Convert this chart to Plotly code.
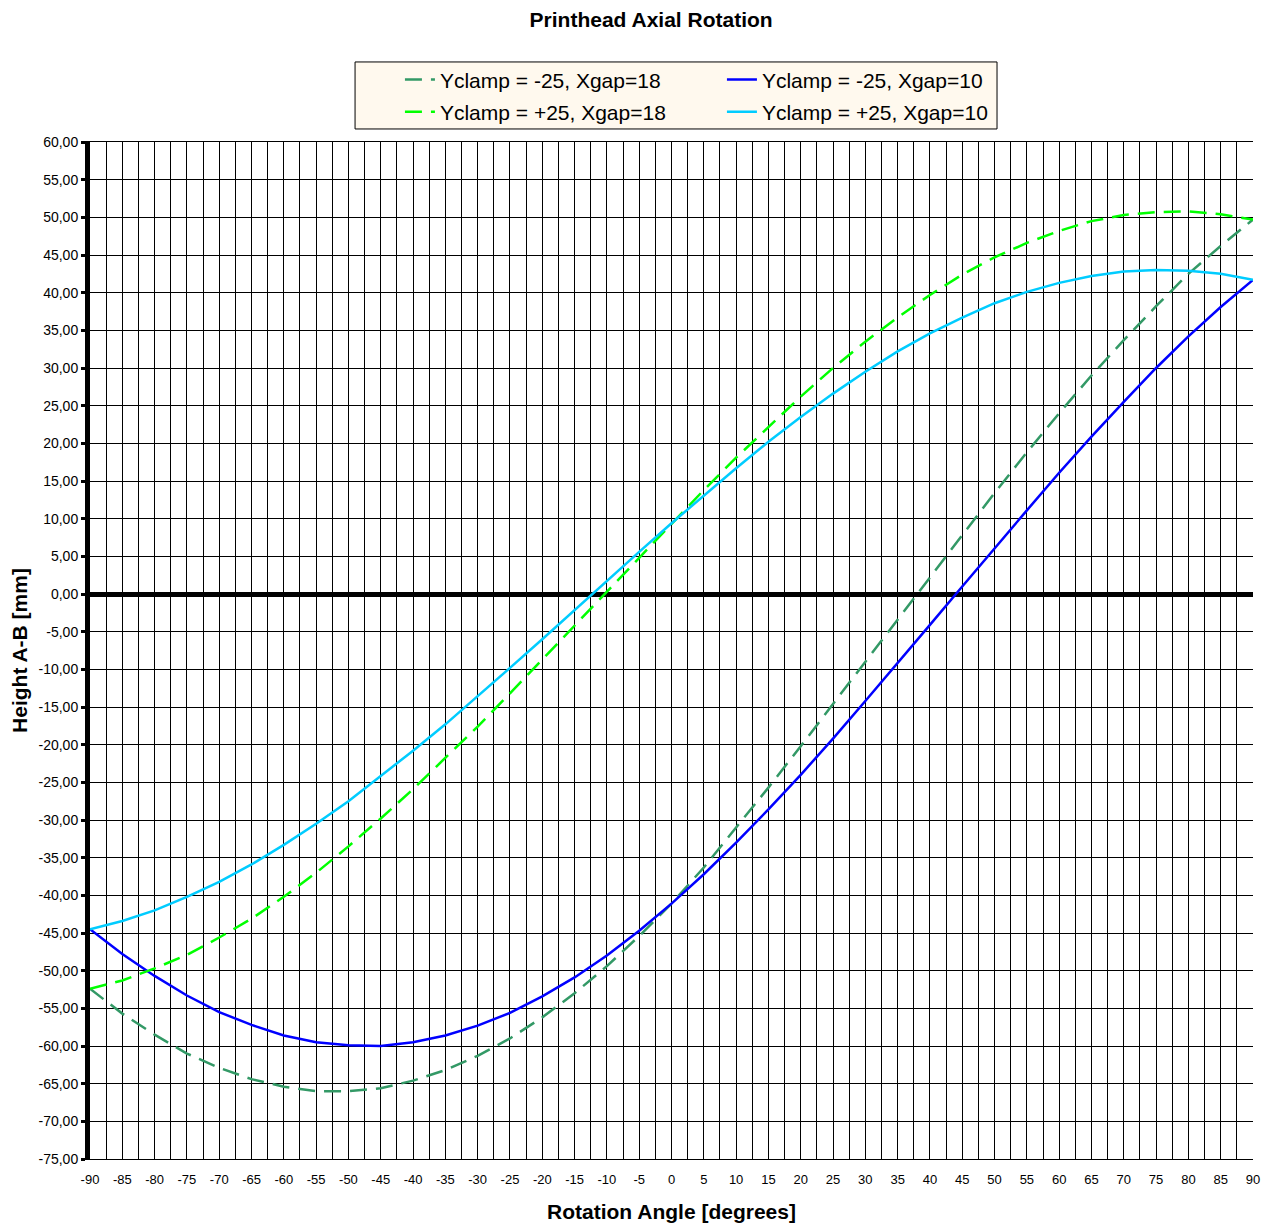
import plotly.graph_objects as go

# rotation angle, degrees
angle = [-90, -85, -80, -75, -70, -65, -60, -55, -50, -45, -40, -35, -30, -25, -20, -15, -10, -5,
         0, 5, 10, 15, 20, 25, 30, 35, 40, 45, 50, 55, 60, 65, 70, 75, 80, 85, 90]

# height A-B [mm]
ym25_xg18 = [-52.4, -55.7, -58.5, -61.0, -62.9, -64.4, -65.4, -66.0, -66.0, -65.6, -64.6, -63.2,
             -61.3, -59.0, -56.2, -53.0, -49.4, -45.4, -41.1, -36.3, -31.0, -25.7, -20.2, -14.6,
             -8.9, -3.3, 2.3, 7.9, 13.4, 18.8, 24.0, 29.0, 33.7, 38.2, 42.5, 46.2, 49.7]
ym25_xg10 = [-44.5, -47.8, -50.7, -53.3, -55.5, -57.2, -58.6, -59.5, -59.9, -60.0, -59.5, -58.6,
             -57.3, -55.6, -53.4, -50.9, -48.0, -44.7, -41.1, -37.2, -33.0, -28.6, -24.0, -19.2,
             -14.2, -9.2, -4.1, 1.0, 6.1, 11.1, 16.1, 20.9, 25.5, 30.0, 34.2, 38.1, 41.7]
yp25_xg18 = [-52.4, -51.3, -49.7, -47.9, -45.6, -43.1, -40.2, -37.0, -33.5, -29.8, -25.9, -21.8,
             -17.6, -13.2, -8.7, -4.2, 0.4, 4.9, 9.4, 13.8, 18.1, 22.2, 26.2, 30.0,
             33.5, 36.7, 39.7, 42.4, 44.7, 46.6, 48.2, 49.5, 50.3, 50.7, 50.8, 50.4, 49.7]
yp25_xg10 = [-44.5, -43.4, -42.0, -40.2, -38.2, -35.9, -33.3, -30.5, -27.5, -24.2, -20.8, -17.3,
             -13.6, -9.8, -6.0, -2.1, 1.8, 5.6, 9.4, 13.1, 16.7, 20.2, 23.5, 26.6,
             29.5, 32.2, 34.6, 36.7, 38.6, 40.1, 41.3, 42.2, 42.8, 43.0, 42.9, 42.5, 41.7]

# tick labels as printed (decimal comma, plain hyphen)
y_tickvals = [60, 55, 50, 45, 40, 35, 30, 25, 20, 15, 10, 5, 0, -5, -10, -15, -20, -25, -30,
              -35, -40, -45, -50, -55, -60, -65, -70, -75]
y_ticktext = ["60,00", "55,00", "50,00", "45,00", "40,00", "35,00", "30,00", "25,00", "20,00",
              "15,00", "10,00", "5,00", "0,00", "-5,00", "-10,00", "-15,00", "-20,00", "-25,00",
              "-30,00", "-35,00", "-40,00", "-45,00", "-50,00", "-55,00", "-60,00", "-65,00",
              "-70,00", "-75,00"]
x_tickvals = angle
x_ticktext = ["-90", "-85", "-80", "-75", "-70", "-65", "-60", "-55", "-50", "-45", "-40", "-35",
              "-30", "-25", "-20", "-15", "-10", "-5", "0", "5", "10", "15", "20", "25", "30",
              "35", "40", "45", "50", "55", "60", "65", "70", "75", "80", "85", "90"]

FONT = "Arial, 'Liberation Sans', sans-serif"
DASH = "17px,9px"

fig = go.Figure()
fig.add_trace(go.Scatter(x=angle, y=ym25_xg18, mode="lines", name="Yclamp = -25, Xgap=18",
                         line=dict(color="#339966", width=2.5, dash=DASH), legend="legend"))
fig.add_trace(go.Scatter(x=angle, y=ym25_xg10, mode="lines", name="Yclamp = -25, Xgap=10",
                         line=dict(color="#0000FF", width=2.5), legend="legend"))
fig.add_trace(go.Scatter(x=angle, y=yp25_xg18, mode="lines", name="Yclamp = +25, Xgap=18",
                         line=dict(color="#00FF00", width=2.5, dash=DASH), legend="legend2"))
fig.add_trace(go.Scatter(x=angle, y=yp25_xg10, mode="lines", name="Yclamp = +25, Xgap=10",
                         line=dict(color="#00CCFF", width=2.5), legend="legend2"))

# legend box behind the two legend rows
fig.add_shape(type="rect", xref="paper", yref="paper", x0=0.2279, x1=0.7799, y0=1.0128, y1=1.0787,
              fillcolor="#FFF9EE", line=dict(color="black", width=1), layer="below")

leg = dict(orientation="h", xanchor="left", yanchor="middle", x=0.2665,
           bgcolor="rgba(0,0,0,0)", borderwidth=0, entrywidth=277,
           font=dict(family=FONT, size=21, color="black"))

fig.update_layout(
    width=1271, height=1226,
    margin=dict(l=82, r=26, t=134, b=75),
    paper_bgcolor="white", plot_bgcolor="white",
    font=dict(family=FONT, color="black"),
    title=dict(text="<b>Printhead Axial Rotation</b>", x=0.506, xanchor="center",
               y=1, yanchor="top", pad=dict(t=4), font=dict(size=21)),
    legend=dict(leg, y=1.061),
    legend2=dict(leg, y=1.0295),
    showlegend=True,
)

fig.update_xaxes(
    range=[-90, 90], tickvals=x_tickvals, ticktext=x_ticktext, automargin=False,
    showgrid=True, gridcolor="black", gridwidth=1,
    minor=dict(dtick=2.5, tick0=-90, showgrid=True, gridcolor="black", gridwidth=1),
    zeroline=False, showline=True, linecolor="black", linewidth=1, mirror=True,
    ticks="", ticklabelstandoff=8, tickfont=dict(size=13),
    title=dict(text="<b>Rotation Angle [degrees]</b>", font=dict(size=21), standoff=18),
)
fig.update_yaxes(
    range=[-75, 60], tickvals=y_tickvals, ticktext=y_ticktext, automargin=False,
    showgrid=True, gridcolor="black", gridwidth=1,
    zeroline=True, zerolinecolor="black", zerolinewidth=5,
    showline=True, linecolor="black", linewidth=5,
    ticks="outside", ticklen=4, tickwidth=3, tickcolor="black", tickfont=dict(size=14),
    title=dict(text="<b>Height A-B [mm]</b>", font=dict(size=21), standoff=13),
)

fig.write_html("out.html")
